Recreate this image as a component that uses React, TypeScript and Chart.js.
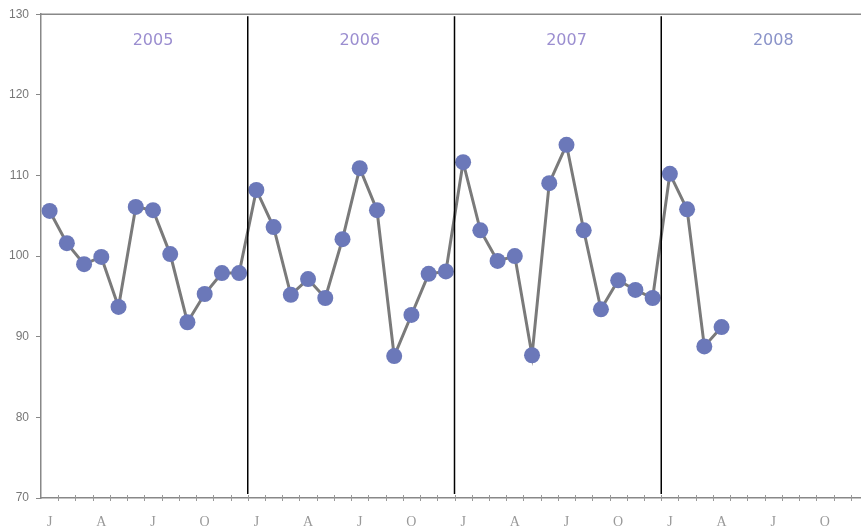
import React, { useEffect, useRef } from "react";
import { Chart, registerables } from "chart.js";

Chart.register(...registerables);

const years = ["2005", "2006", "2007", "2008"];
const monthLetters = ["J", "F", "M", "A", "M", "J", "J", "A", "S", "O", "N", "D"];
const shownLetters = ["J", "", "", "A", "", "", "J", "", "", "O", "", ""];

const values2005 = [105.6, 101.6, 99.0, 99.9, 93.7, 106.1, 105.7, 100.25, 91.8, 95.3, 97.9, 97.9];
const values2006 = [108.2, 103.6, 95.2, 97.15, 94.8, 102.1, 110.9, 105.7, 87.6, 92.7, 97.8, 98.1];
const values2007 = [111.65, 103.2, 99.4, 100.0, 87.7, 109.05, 113.8, 103.2, 93.4, 97.0, 95.8, 94.8];
const values2008 = [110.2, 105.8, 88.8, 91.2, null, null, null, null, null, null, null, null];

const yearLabelColors = ["#9b8ed0", "#9b8ed0", "#9b8ed0", "#8a93c9"];

const categories: string[] = [];
years.forEach((y) => monthLetters.forEach((m) => categories.push(m + " " + y)));
const allValues: (number | null)[] = [...values2005, ...values2006, ...values2007, ...values2008];

const decorPlugin = {
  id: "decor",
  afterDraw(chart: any) {
    const { ctx, chartArea, scales } = chart;
    const x = scales.x;
    const half = (x.getPixelForValue(1) - x.getPixelForValue(0)) / 2;
    ctx.save();
    // top border
    ctx.strokeStyle = "#888";
    ctx.lineWidth = 1.5;
    ctx.beginPath();
    ctx.moveTo(chartArea.left, chartArea.top);
    ctx.lineTo(chart.width, chartArea.top);
    ctx.stroke();
    // x ticks at month boundaries
    ctx.lineWidth = 1;
    ctx.strokeStyle = "#999";
    for (let i = 1; i <= categories.length; i++) {
      const px = Math.round(x.getPixelForValue(i) - half) + 0.5;
      ctx.beginPath();
      ctx.moveTo(px, chartArea.bottom - 3);
      ctx.lineTo(px, chartArea.bottom + 3);
      ctx.stroke();
    }
    // year separators
    ctx.strokeStyle = "#000";
    ctx.lineWidth = 1.5;
    for (let yi = 1; yi < years.length; yi++) {
      const px = x.getPixelForValue(yi * 12) - half;
      ctx.beginPath();
      ctx.moveTo(px, chartArea.top + 2);
      ctx.lineTo(px, chartArea.bottom - 4);
      ctx.stroke();
    }
    // year labels
    ctx.font = "16px 'DejaVu Sans'";
    ctx.textAlign = "center";
    ctx.textBaseline = "middle";
    years.forEach((y, yi) => {
      ctx.fillStyle = yearLabelColors[yi];
      ctx.fillText(y, x.getPixelForValue(yi * 12 + 6), 41);
    });
    ctx.restore();
  },
};

export default function App() {
  const ref = useRef<HTMLCanvasElement>(null);
  useEffect(() => {
    if (!ref.current) return;
    const chart = new Chart(ref.current, {
      type: "line",
      data: {
        labels: categories,
        datasets: [
          {
            data: allValues,
            borderColor: "#7a7a7a",
            borderWidth: 3,
            pointRadius: 8,
            pointHoverRadius: 8,
            pointBackgroundColor: "#6b78b9",
            pointBorderColor: "#6b78b9",
            pointBorderWidth: 0,
            tension: 0,
            spanGaps: false,
          },
        ],
      },
      options: {
        responsive: false,
        animation: false,
        devicePixelRatio: 1,
        layout: { padding: { top: 14, right: 2, left: 0, bottom: 0 } },
        plugins: { legend: { display: false }, tooltip: { enabled: false } },
        scales: {
          x: {
            type: "category",
            offset: true,
            grid: { display: false, drawTicks: false },
            border: { display: true, color: "#888", width: 1.5 },
            ticks: {
              autoSkip: false,
              maxRotation: 0,
              minRotation: 0,
              padding: 16,
              color: "#999",
              font: { family: "'Liberation Serif'", size: 14 },
              callback: (_v: any, i: number) => shownLetters[i % 12],
            },
            afterFit: (s: any) => {
              s.height = 34;
            },
          },
          y: {
            min: 70,
            max: 130,
            ticks: {
              stepSize: 10,
              padding: 7,
              color: "#777",
              font: { family: "'Liberation Sans'", size: 12 },
            },
            grid: { drawOnChartArea: false, tickLength: 5, color: "#888" },
            border: { display: true, color: "#888", width: 1.5 },
            afterFit: (s: any) => {
              s.width = 41;
            },
          },
        },
      },
      plugins: [decorPlugin],
    });
    return () => chart.destroy();
  }, []);
  return (
    <div style={{ position: "fixed", left: 0, top: 0, width: 861, height: 532, overflow: "hidden", background: "#fff" }}>
      <canvas ref={ref} width={876} height={532} style={{ display: "block" }} />
    </div>
  );
}
